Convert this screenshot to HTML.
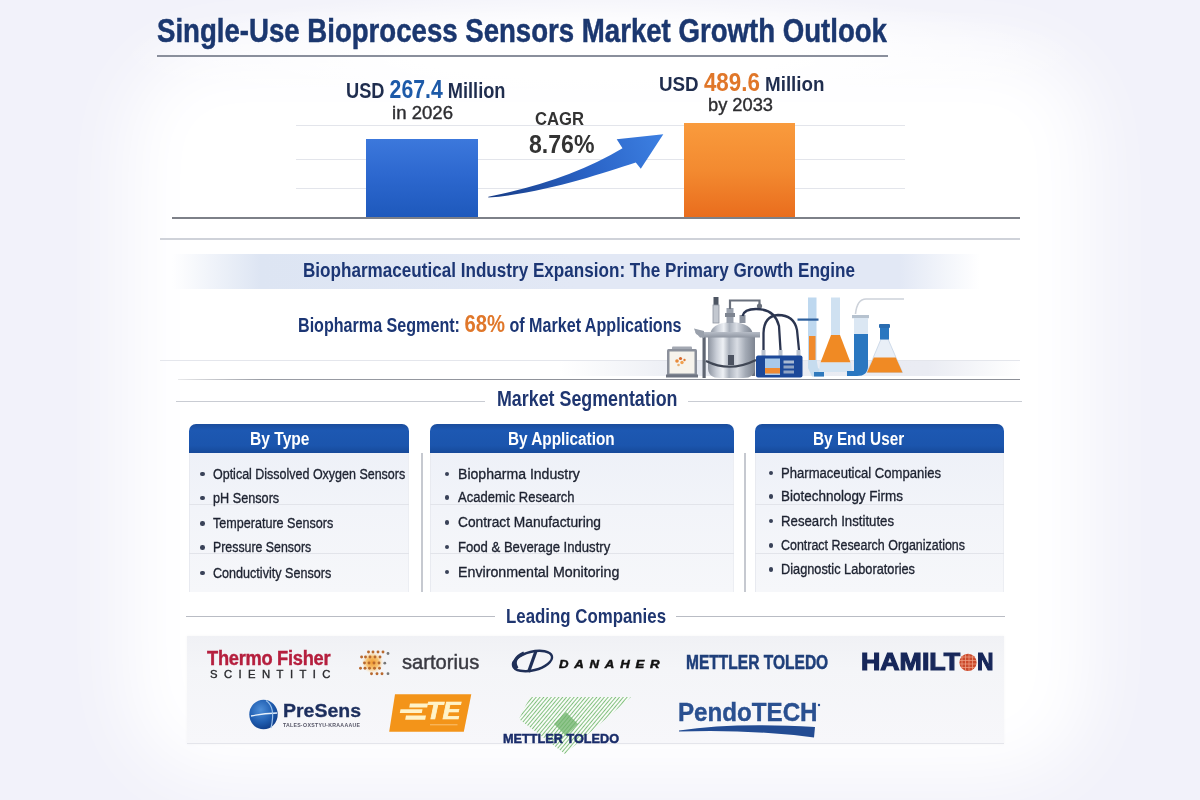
<!DOCTYPE html>
<html><head><meta charset="utf-8"><title>Single-Use Bioprocess Sensors Market Growth Outlook</title>
<style>
*{margin:0;padding:0;box-sizing:border-box}
html,body{width:1200px;height:800px;overflow:hidden}
body{position:relative;font-family:'Liberation Sans',Arial,sans-serif;background:#f2f2fa}
.glow{position:absolute;left:128px;top:50px;width:962px;height:728px;background:#fff;filter:blur(36px);border-radius:90px}
.a{position:absolute}
.t{position:absolute;white-space:nowrap;transform-origin:0 0}
.hl{position:absolute;height:1px}
.card{position:absolute;top:424px;height:168px}
.card .hd{position:absolute;left:0;top:0;right:0;height:29px;border-radius:7px 7px 0 0;
 background:linear-gradient(180deg,#1a4c9c 0%,#1d58b2 22%,#1b55ad 75%,#164999 100%)}
.card .bd{position:absolute;left:0;top:29px;right:0;bottom:0;
 background:linear-gradient(180deg,#eef1f8 0%,#f2f4f9 40%,#f6f7fa 100%);border-left:1px solid #e8eaf0;border-right:1px solid #eceef3}
.card .sep{position:absolute;left:0;right:0;height:1px;background:#e2e4ea}
.dot{position:absolute;width:4.6px;height:4.6px;border-radius:50%;background:#394258}

</style></head><body>
<div class="glow"></div>
<div class="a" style="left:120px;top:0;width:960px;height:90px;background:radial-gradient(ellipse 50% 70% at 50% 60%,#fff 40%,rgba(255,255,255,0) 100%)"></div>
<!-- title underline -->
<div class="a" style="left:157px;top:55.3px;width:731px;height:1.8px;background:#8a8f9c"></div>
<!-- chart grid -->
<div class="hl" style="left:296px;top:124.5px;width:609px;background:#e3e5eb"></div>
<div class="hl" style="left:296px;top:158.5px;width:609px;background:#e3e5eb"></div>
<div class="hl" style="left:296px;top:187.5px;width:609px;background:#e3e5eb"></div>
<!-- bars -->
<div class="a" style="left:366px;top:138.5px;width:112px;height:80px;background:linear-gradient(180deg,#3c78dc 0%,#2d68cf 45%,#1d58bb 100%)"></div>
<div class="a" style="left:683.7px;top:123px;width:111px;height:95px;background:linear-gradient(180deg,#f99b3d 0%,#f38a30 50%,#e96c1d 100%)"></div>
<!-- baseline -->
<div class="a" style="left:172px;top:217px;width:848px;height:2px;background:#7d8088"></div>
<div class="a" style="left:160px;top:238px;width:860px;height:1.5px;background:#cfd2d9"></div>
<!-- banner -->
<div class="a" style="left:172px;top:254px;width:808px;height:35px;background:linear-gradient(90deg,rgba(220,228,243,0) 0%,#dde5f3 11%,#e2e8f5 50%,#e2e8f5 90%,rgba(226,232,245,0) 100%)"></div>
<!-- shelf band under illustration -->
<div class="a" style="left:560px;top:360px;width:460px;height:16px;background:linear-gradient(90deg,rgba(225,230,240,0) 0%,#e8ebf2 30%,#eaecf3 80%,rgba(230,233,241,0) 100%)"></div>
<div class="a" style="left:160px;top:359.5px;width:860px;height:1px;background:#e4e6ec"></div>
<!-- line under segment -->
<div class="a" style="left:178px;top:378.5px;width:842px;height:1.5px;background:linear-gradient(90deg,rgba(141,144,152,0.2) 0%,#9a9da5 10%,#8d9098 50%,#8d9098 100%)"></div>
<!-- Market Segmentation rules -->
<div class="hl" style="left:176px;top:400.5px;width:309px;height:1.5px;background:#c9ccd3"></div>
<div class="hl" style="left:688px;top:400.5px;width:334px;height:1.5px;background:#c9ccd3"></div>
<!-- cards -->
<div class="card" style="left:189px;width:220px"><div class="hd"></div><div class="bd"></div><div class="sep" style="top:80px"></div><div class="sep" style="top:129px"></div></div>
<div class="card" style="left:430px;width:304px"><div class="hd"></div><div class="bd"></div><div class="sep" style="top:80px"></div><div class="sep" style="top:129px"></div></div>
<div class="card" style="left:755px;width:249px"><div class="hd"></div><div class="bd"></div><div class="sep" style="top:80px"></div><div class="sep" style="top:129px"></div></div>
<!-- vertical dividers -->
<div class="a" style="left:421px;top:453px;width:1.5px;height:139px;background:#c6c9d0"></div>
<div class="a" style="left:744px;top:453px;width:1.5px;height:139px;background:#c6c9d0"></div>
<!-- Leading companies rules -->
<div class="hl" style="left:186px;top:615.5px;width:309px;height:1.5px;background:#b9bcc4"></div>
<div class="hl" style="left:676px;top:615.5px;width:329px;height:1.5px;background:#b9bcc4"></div>
<!-- logos panel -->
<div class="a" style="left:187px;top:636px;width:817px;height:108px;background:linear-gradient(180deg,#f0f1f5 0%,#f4f5f8 30%,#f7f7fa 100%);border-bottom:1.5px solid #e4e5eb;box-shadow:0 0 3px rgba(0,0,30,0.04)"></div>
<svg class="a" style="left:0;top:0" width="1200" height="800" viewBox="0 0 1200 800">
<defs>
<linearGradient id="ag" x1="488" y1="197" x2="663" y2="134" gradientUnits="userSpaceOnUse">
<stop offset="0" stop-color="#173c86"/><stop offset="0.55" stop-color="#2a63c6"/><stop offset="1" stop-color="#3d80e2"/>
</linearGradient>
</defs>
<path d="M488.3,196.7 Q568,181 622.5,148.3 L616.7,139.2 L663.3,134.2 L640.8,168.7 L635.8,162.5 C600,174 545,193 488.3,197.6 Z" fill="url(#ag)"/>
</svg>
<svg class="a" style="left:0;top:0" width="1200" height="800" viewBox="0 0 1200 800">
<defs>
<linearGradient id="steel" x1="0" y1="0" x2="1" y2="0">
<stop offset="0" stop-color="#8c939f"/><stop offset="0.18" stop-color="#c9ced7"/><stop offset="0.32" stop-color="#eef1f5"/><stop offset="0.45" stop-color="#aab1bc"/><stop offset="0.62" stop-color="#d9dde4"/><stop offset="0.8" stop-color="#a3aab5"/><stop offset="1" stop-color="#7d8490"/>
</linearGradient>
<linearGradient id="steel2" x1="0" y1="0" x2="0" y2="1">
<stop offset="0" stop-color="#b7bdc7"/><stop offset="1" stop-color="#8f96a2"/>
</linearGradient>
</defs>
<!-- monitor -->
<rect x="672" y="346.5" width="20" height="3.5" rx="1" fill="#a3a8b2"/>
<rect x="667" y="349" width="30" height="28" rx="1.5" fill="#8b909b"/>
<rect x="669.5" y="351.5" width="25" height="22" fill="#f6f3ec"/>
<circle cx="677" cy="361" r="1.8" fill="#e88a3a"/><circle cx="680.5" cy="358.5" r="1.6" fill="#d8682a"/><circle cx="682" cy="362.5" r="1.7" fill="#f0a050"/><circle cx="678.5" cy="365" r="1.3" fill="#e8b070"/><circle cx="684.5" cy="360" r="1.2" fill="#e07a30"/>
<rect x="666" y="374.5" width="32" height="3" fill="#6f7582"/>
<!-- reactor -->
<rect x="702.5" y="336" width="3.2" height="42" fill="#5f6672"/>
<rect x="752" y="336" width="3" height="40" fill="#6a717d"/>
<path d="M708,336 L708,368 Q708,378 720,378 L743,378 Q755,378 755,368 L755,336 Z" fill="url(#steel)"/>
<path d="M706,361 Q730,373 756,360" stroke="#3f4654" stroke-width="2.2" fill="none"/>
<rect x="728" y="355" width="6" height="10" fill="#4b5260"/>
<path d="M710,336 Q710,323 731,322 Q753,323 753,336 Z" fill="url(#steel)"/>
<path d="M695,332 L760,332 L760,337.5 L700,337.5 Z" fill="url(#steel2)"/>
<path d="M694,328.5 L704,331 L704,338 L696,334 Z" fill="#9aa1ac"/>
<!-- probe + fittings -->
<rect x="713.5" y="297" width="5" height="9" fill="#4d5562"/>
<rect x="713" y="305" width="6" height="18" fill="#c3c8d0" stroke="#8e95a0" stroke-width="0.8"/>
<rect x="726.5" y="308" width="7" height="15" fill="#9aa1ad"/>
<rect x="725" y="313" width="10" height="4" fill="#7d8490"/>
<rect x="739.5" y="315" width="6" height="8" fill="#8d94a0"/>
<path d="M730,309 L730,300.5 L759.5,300.5 L759.5,305" stroke="#6a717d" stroke-width="2.2" fill="none"/>
<circle cx="759.5" cy="306" r="2.6" fill="#6a717d"/>
<!-- hoses -->
<path d="M742.5,316 Q744,309 756,309 Q775,309 779,326 L780.5,350" stroke="#2b3550" stroke-width="2.3" fill="none"/>
<path d="M763.5,350 L763.5,333 Q764,316 778,315 Q794,315 797,330 L799,350" stroke="#2b3550" stroke-width="2.3" fill="none"/>
<!-- controller -->
<rect x="761.5" y="350" width="4" height="6" fill="#b9c2cf"/><rect x="778.5" y="350" width="4" height="6" fill="#b9c2cf"/><rect x="796.5" y="350" width="4" height="6" fill="#b9c2cf"/>
<rect x="756" y="355.5" width="46.5" height="22" rx="2" fill="#1b4899"/>
<rect x="765" y="358.5" width="15" height="16.5" fill="#a8c9ea"/>
<rect x="765" y="368" width="15" height="5.5" fill="#ef8a32"/>
<rect x="783.5" y="360.5" width="10.5" height="3" fill="#a9bad3"/><rect x="783.5" y="365.5" width="10.5" height="3" fill="#8fa3c4"/><rect x="783.5" y="370.5" width="10.5" height="3" fill="#8fa3c4"/>
<!-- burette -->
<rect x="808" y="297.5" width="8.5" height="66" fill="#bed8ef"/>
<rect x="809" y="336" width="6.5" height="24" fill="#f08a2c"/>
<path d="M808,360 L816.5,360 L818,368 L824,372 L824,376.5 L812,376.5 L808,368 Z" fill="#c6dcef"/>
<rect x="814" y="372" width="10" height="4.5" fill="#2f79bd"/>
<rect x="797.5" y="318.5" width="21" height="2.2" fill="#2d5f9c"/>
<!-- flask 1 -->
<rect x="831" y="297.5" width="9" height="38" fill="#cfe1f1"/>
<path d="M831,335 L840,335 L850.5,362.5 L820.5,362.5 Z" fill="#f08a24"/>
<path d="M820,362.5 L851,362.5 L852,372 L819,372 Z" fill="#d4e4f2"/>
<!-- j tube -->
<path d="M855.5,314 Q857,299 866,299 L904,299" stroke="#cdd2da" stroke-width="1.6" fill="none"/>
<rect x="852" y="315" width="17" height="3.2" fill="#b6c2cf"/>
<rect x="854" y="318" width="14" height="16.5" fill="#dbe7f3"/>
<path d="M854,334 L868,334 L868,366 Q868,376 857,376 L847,376 L847,371 L854,371 Z" fill="#2a77c0"/>
<!-- flask 2 -->
<path d="M881,339 L888,339 L902.5,372.5 L867,372.5 Z" fill="#e9eff7" stroke="#c5d3e4" stroke-width="0.8"/>
<path d="M873.8,357.5 L895.8,357.5 L902.5,372.5 L867,372.5 Z" fill="#f08a24"/>
<rect x="880" y="327" width="9" height="12.5" fill="#2a77c0"/>
<rect x="879" y="324" width="11" height="4" rx="1" fill="#2a6cb0"/>
</svg>
<svg class="a" style="left:0;top:0" width="1200" height="800" viewBox="0 0 1200 800">
<defs>
<radialGradient id="psg" cx="0.4" cy="0.35" r="0.7">
<stop offset="0" stop-color="#4f8fd8"/><stop offset="0.6" stop-color="#1f5db0"/><stop offset="1" stop-color="#0e3b86"/>
</radialGradient>
<pattern id="mtp" width="2.9" height="2.9" patternUnits="userSpaceOnUse" patternTransform="rotate(-50)">
<rect width="2.9" height="2.9" fill="#f8fbf7"/>
<rect width="2.9" height="0.85" fill="#72b86e"/>
</pattern>
<radialGradient id="sg"><stop offset="0" stop-color="#f39a2e"/><stop offset="0.55" stop-color="#f8b95a" stop-opacity="0.85"/><stop offset="1" stop-color="#fde3b0" stop-opacity="0"/></radialGradient>
<clipPath id="hamc"><circle cx="968" cy="662.4" r="8.6"/></clipPath>
</defs>
<!-- sartorius -->
<circle cx="372.5" cy="662.5" r="11" fill="url(#sg)"/>
<circle cx="368.5" cy="652" r="1.45" fill="#b9692e"/>
<circle cx="373" cy="652" r="1.45" fill="#b9692e"/>
<circle cx="378" cy="652" r="1.45" fill="#b9692e"/>
<circle cx="383" cy="652" r="1.45" fill="#b9692e"/>
<circle cx="361.6" cy="657" r="1.45" fill="#b9692e"/>
<circle cx="365.5" cy="657" r="1.45" fill="#b9692e"/>
<circle cx="370" cy="657" r="1.45" fill="#b9692e"/>
<circle cx="375" cy="657" r="1.45" fill="#b9692e"/>
<circle cx="380" cy="657" r="1.45" fill="#b9692e"/>
<circle cx="364.5" cy="663" r="1.45" fill="#b9692e"/>
<circle cx="369" cy="663" r="1.45" fill="#b9692e"/>
<circle cx="374" cy="663" r="1.45" fill="#b9692e"/>
<circle cx="379" cy="663" r="1.45" fill="#b9692e"/>
<circle cx="360.5" cy="668.3" r="1.45" fill="#b9692e"/>
<circle cx="365" cy="668.3" r="1.45" fill="#b9692e"/>
<circle cx="369.5" cy="668.3" r="1.45" fill="#b9692e"/>
<circle cx="374.5" cy="668.3" r="1.45" fill="#b9692e"/>
<circle cx="379.5" cy="668.3" r="1.45" fill="#b9692e"/>
<circle cx="371.5" cy="673.7" r="1.45" fill="#b9692e"/>
<circle cx="377" cy="673.7" r="1.45" fill="#b9692e"/>
<circle cx="382" cy="673.7" r="1.45" fill="#b9692e"/>
<circle cx="388" cy="653.5" r="1.4" fill="#777"/>
<circle cx="384.8" cy="663.2" r="1.4" fill="#777"/>
<circle cx="388" cy="673.7" r="1.4" fill="#777"/>
<!-- danaher -->
<ellipse cx="532.5" cy="661" rx="20" ry="9.3" transform="rotate(-14 532.5 661)" fill="none" stroke="#1f2f57" stroke-width="2.4"/>
<path d="M536,651 L528.5,672" stroke="#1f2f57" stroke-width="3.2"/>
<path d="M524,653 Q511,659 517,668.5" stroke="#1f2f57" stroke-width="3.4" fill="none"/>
<!-- hamilton globe -->
<circle cx="968" cy="662.4" r="8.6" fill="#cb4a2c"/>
<g clip-path="url(#hamc)" stroke="#f0a58a" stroke-width="0.7">
<line x1="958" y1="657" x2="978" y2="657"/><line x1="958" y1="660.5" x2="978" y2="660.5"/><line x1="958" y1="664" x2="978" y2="664"/><line x1="958" y1="667.5" x2="978" y2="667.5"/>
<line x1="962" y1="652" x2="962" y2="672"/><line x1="965.5" y1="652" x2="965.5" y2="672"/><line x1="969" y1="652" x2="969" y2="672"/><line x1="972.5" y1="652" x2="972.5" y2="672"/>
</g>
<!-- presens globe -->
<ellipse cx="263.5" cy="714.5" rx="14.2" ry="14.8" fill="url(#psg)"/>
<path d="M251,716 Q263,713.5 277,713" stroke="#e8f1fb" stroke-width="1.3" fill="none"/>
<path d="M266,700.5 Q276,707 271,728" stroke="#9ec3ea" stroke-width="1.2" fill="none"/>
<!-- TE -->
<polygon points="395,694.2 471.3,694.2 463.8,731.8 389.2,731.8" fill="#f39419"/>
<polygon points="410,703.4 428,703.4 427.2,707.6 409.2,707.6" fill="#fff3c8"/>
<polygon points="400.5,709.3 422.5,709.3 421.8,713 399.8,713" fill="#fff3c8"/>
<polygon points="406,715.5 426,715.5 425.2,719.7 405.2,719.7" fill="#fff3c8"/>
<rect x="430" y="724" width="27.5" height="1.4" fill="#f8b458"/>
<!-- mettler toledo green -->
<polygon points="530,697 631,697 565,754 519,719" fill="url(#mtp)"/>
<polygon points="566,712 578,724 566,736 554,724" fill="#6db36a" opacity="0.75"/>
<!-- pendotech swoosh -->
<path d="M679,730.5 Q735,722 815,727 L814,737.5 Q748,729 679,731.5 Z" fill="#234c93"/>
<circle cx="819" cy="705" r="1.2" fill="#234c93"/>
</svg>
<div class="dot" style="left:200.1px;top:471.6px"></div>
<div class="dot" style="left:200.1px;top:495.5px"></div>
<div class="dot" style="left:200.1px;top:521.0px"></div>
<div class="dot" style="left:200.1px;top:545.0px"></div>
<div class="dot" style="left:200.1px;top:570.6px"></div>
<div class="dot" style="left:444.5px;top:471.8px"></div>
<div class="dot" style="left:444.5px;top:495.3px"></div>
<div class="dot" style="left:444.5px;top:520.4px"></div>
<div class="dot" style="left:444.5px;top:544.8px"></div>
<div class="dot" style="left:444.5px;top:569.9px"></div>
<div class="dot" style="left:768.5px;top:470.5px"></div>
<div class="dot" style="left:768.5px;top:494.0px"></div>
<div class="dot" style="left:768.5px;top:518.5px"></div>
<div class="dot" style="left:768.5px;top:543.0px"></div>
<div class="dot" style="left:768.5px;top:567.0px"></div>

<div class="t" id="t0" style="left:157.00px;top:13.53px;font-size:33.5px;font-weight:700;color:#1b376f;line-height:33.5px;transform:scaleX(0.8238);-webkit-text-stroke:0.5px #1b376f">Single-Use Bioprocess Sensors Market Growth Outlook</div>
<div class="t" id="t1" style="left:345.50px;top:79.22px;font-size:21.5px;font-weight:700;color:#1f2d4e;line-height:21.5px;transform:scaleX(0.8485);">USD <span style="font-size:25px;color:#1d5aa8">267.4</span> Million</div>
<div class="t" id="t2" style="left:392.00px;top:102.85px;font-size:19px;font-weight:400;color:#2d2d30;line-height:19px;transform:scaleX(0.9784);-webkit-text-stroke:0.4px #2d2d30">in 2026</div>
<div class="t" id="t3" style="left:659.00px;top:71.85px;font-size:21px;font-weight:700;color:#1f2d4e;line-height:21px;transform:scaleX(0.8942);">USD <span style="font-size:25px;color:#e0772a">489.6</span> Million</div>
<div class="t" id="t4" style="left:708.00px;top:94.85px;font-size:19px;font-weight:400;color:#2d2d30;line-height:19px;transform:scaleX(0.9612);-webkit-text-stroke:0.4px #2d2d30">by 2033</div>
<div class="t" id="t5" style="left:535.00px;top:109.70px;font-size:18px;font-weight:700;color:#333;line-height:18px;transform:scaleX(0.9245);">CAGR</div>
<div class="t" id="t6" style="left:528.50px;top:131.75px;font-size:25px;font-weight:700;color:#333;line-height:25px;transform:scaleX(0.9240);">8.76%</div>
<div class="t" id="t7" style="left:302.50px;top:261.43px;font-size:19.5px;font-weight:700;color:#1c3674;line-height:19.5px;transform:scaleX(0.8768);">Biopharmaceutical Industry Expansion: The Primary Growth Engine</div>
<div class="t" id="t8" style="left:297.50px;top:313.93px;font-size:19.5px;font-weight:700;color:#1c3674;line-height:19.5px;transform:scaleX(0.8258);">Biopharma Segment: <span style="font-size:24.5px;color:#e0772a">68%</span> of Market Applications</div>
<div class="t" id="t9" style="left:496.50px;top:389.23px;font-size:21.5px;font-weight:700;color:#1f3670;line-height:21.5px;transform:scaleX(0.8301);">Market Segmentation</div>
<div class="t" id="t10" style="left:506.00px;top:605.58px;font-size:20.5px;font-weight:700;color:#1f3670;line-height:20.5px;transform:scaleX(0.8214);">Leading Companies</div>
<div class="t" id="t11" style="left:250.00px;top:429.70px;font-size:18px;font-weight:700;color:#fff;line-height:18px;transform:scaleX(0.8662);">By Type</div>
<div class="t" id="t12" style="left:507.70px;top:429.70px;font-size:18px;font-weight:700;color:#fff;line-height:18px;transform:scaleX(0.8513);">By Application</div>
<div class="t" id="t13" style="left:812.50px;top:429.70px;font-size:18px;font-weight:700;color:#fff;line-height:18px;transform:scaleX(0.8524);">By End User</div>
<div class="t" id="t14" style="left:212.80px;top:465.60px;font-size:15.3px;font-weight:400;color:#1d2230;line-height:15.3px;transform:scaleX(0.8161);-webkit-text-stroke:0.35px #1d2230">Optical Dissolved Oxygen Sensors</div>
<div class="t" id="t15" style="left:212.80px;top:489.50px;font-size:15.3px;font-weight:400;color:#1d2230;line-height:15.3px;transform:scaleX(0.8283);-webkit-text-stroke:0.35px #1d2230">pH Sensors</div>
<div class="t" id="t16" style="left:212.80px;top:515.00px;font-size:15.3px;font-weight:400;color:#1d2230;line-height:15.3px;transform:scaleX(0.8219);-webkit-text-stroke:0.35px #1d2230">Temperature Sensors</div>
<div class="t" id="t17" style="left:212.80px;top:539.00px;font-size:15.3px;font-weight:400;color:#1d2230;line-height:15.3px;transform:scaleX(0.8077);-webkit-text-stroke:0.35px #1d2230">Pressure Sensors</div>
<div class="t" id="t18" style="left:212.80px;top:564.60px;font-size:15.3px;font-weight:400;color:#1d2230;line-height:15.3px;transform:scaleX(0.8226);-webkit-text-stroke:0.35px #1d2230">Conductivity Sensors</div>
<div class="t" id="t19" style="left:457.50px;top:465.80px;font-size:15.3px;font-weight:400;color:#1d2230;line-height:15.3px;transform:scaleX(0.9190);-webkit-text-stroke:0.35px #1d2230">Biopharma Industry</div>
<div class="t" id="t20" style="left:457.50px;top:489.30px;font-size:15.3px;font-weight:400;color:#1d2230;line-height:15.3px;transform:scaleX(0.8510);-webkit-text-stroke:0.35px #1d2230">Academic Research</div>
<div class="t" id="t21" style="left:457.50px;top:514.39px;font-size:15.3px;font-weight:400;color:#1d2230;line-height:15.3px;transform:scaleX(0.8994);-webkit-text-stroke:0.35px #1d2230">Contract Manufacturing</div>
<div class="t" id="t22" style="left:457.50px;top:538.79px;font-size:15.3px;font-weight:400;color:#1d2230;line-height:15.3px;transform:scaleX(0.8564);-webkit-text-stroke:0.35px #1d2230">Food &amp; Beverage Industry</div>
<div class="t" id="t23" style="left:457.50px;top:563.89px;font-size:15.3px;font-weight:400;color:#1d2230;line-height:15.3px;transform:scaleX(0.9299);-webkit-text-stroke:0.35px #1d2230">Environmental Monitoring</div>
<div class="t" id="t24" style="left:781.00px;top:464.50px;font-size:15.3px;font-weight:400;color:#1d2230;line-height:15.3px;transform:scaleX(0.8553);-webkit-text-stroke:0.35px #1d2230">Pharmaceutical Companies</div>
<div class="t" id="t25" style="left:781.00px;top:488.00px;font-size:15.3px;font-weight:400;color:#1d2230;line-height:15.3px;transform:scaleX(0.8804);-webkit-text-stroke:0.35px #1d2230">Biotechnology Firms</div>
<div class="t" id="t26" style="left:781.00px;top:512.50px;font-size:15.3px;font-weight:400;color:#1d2230;line-height:15.3px;transform:scaleX(0.8630);-webkit-text-stroke:0.35px #1d2230">Research Institutes</div>
<div class="t" id="t27" style="left:781.00px;top:537.00px;font-size:15.3px;font-weight:400;color:#1d2230;line-height:15.3px;transform:scaleX(0.8135);-webkit-text-stroke:0.35px #1d2230">Contract Research Organizations</div>
<div class="t" id="t28" style="left:781.00px;top:561.00px;font-size:15.3px;font-weight:400;color:#1d2230;line-height:15.3px;transform:scaleX(0.8338);-webkit-text-stroke:0.35px #1d2230">Diagnostic Laboratories</div>
<div class="t" id="t29" style="left:207.00px;top:648.92px;font-size:19.5px;font-weight:700;color:#b51f3e;line-height:19.5px;transform:scaleX(0.9367);letter-spacing:-0.3px;-webkit-text-stroke:0.4px #b51f3e">Thermo Fisher</div>
<div class="t" id="t30" style="left:209.50px;top:668.58px;font-size:10.5px;font-weight:400;color:#2a2a2e;line-height:10.5px;transform:scaleX(1.0726);letter-spacing:6px;-webkit-text-stroke:0.35px #2a2a2e">SCIENTITIC</div>
<div class="t" id="t31" style="left:401.70px;top:650.85px;font-size:21px;font-weight:400;color:#3a3a42;line-height:21px;transform:scaleX(0.9599);-webkit-text-stroke:0.45px #3a3a42">sartorius</div>
<div class="t" id="t32" style="left:558.50px;top:659.08px;font-size:10.5px;font-weight:900;color:#111;line-height:10.5px;transform:scaleX(1.2546);font-style:italic;letter-spacing:4.6px;-webkit-text-stroke:0.45px #111">DANAHER</div>
<div class="t" id="t33" style="left:685.60px;top:653.02px;font-size:19.5px;font-weight:700;color:#1f3f7a;line-height:19.5px;transform:scaleX(0.7971);-webkit-text-stroke:0.5px #1f3f7a">METTLER TOLEDO</div>
<div class="t" id="t34" style="left:861.00px;top:650.62px;font-size:23.5px;font-weight:900;color:#17275a;line-height:23.5px;transform:scaleX(1.1377);-webkit-text-stroke:1.1px #17275a">HAMILT</div>
<div class="t" id="t35" style="left:976.50px;top:650.62px;font-size:23.5px;font-weight:900;color:#17275a;line-height:23.5px;transform:scaleX(0.9715);-webkit-text-stroke:1.1px #17275a">N</div>
<div class="t" id="t36" style="left:283.00px;top:700.85px;font-size:19px;font-weight:700;color:#1d2f5e;line-height:19px;transform:scaleX(1.0257);-webkit-text-stroke:0.3px #1d2f5e">PreSens</div>
<div class="t" id="t37" style="left:283.00px;top:722.83px;font-size:5.5px;font-weight:700;color:#556;line-height:5.5px;transform:scaleX(0.9463);letter-spacing:0.3px">TALES·OXSTYU·KRAAAAUE</div>
<div class="t" id="t38" style="left:426.00px;top:699.73px;font-size:23.5px;font-weight:900;color:#fff3c8;line-height:23.5px;transform:scaleX(1.1488);font-style:italic;-webkit-text-stroke:0.7px #fff3c8">TE</div>
<div class="t" id="t39" style="left:502.70px;top:732.23px;font-size:13.5px;font-weight:900;color:#1a2d6a;line-height:13.5px;transform:scaleX(0.9393);-webkit-text-stroke:0.5px #1a2d6a">METTLER TOLEDO</div>
<div class="t" id="t40" style="left:678.00px;top:699.83px;font-size:25.5px;font-weight:700;color:#2a5090;line-height:25.5px;transform:scaleX(0.9468);-webkit-text-stroke:0.4px #2a5090">PendoTECH</div>
</body></html>
